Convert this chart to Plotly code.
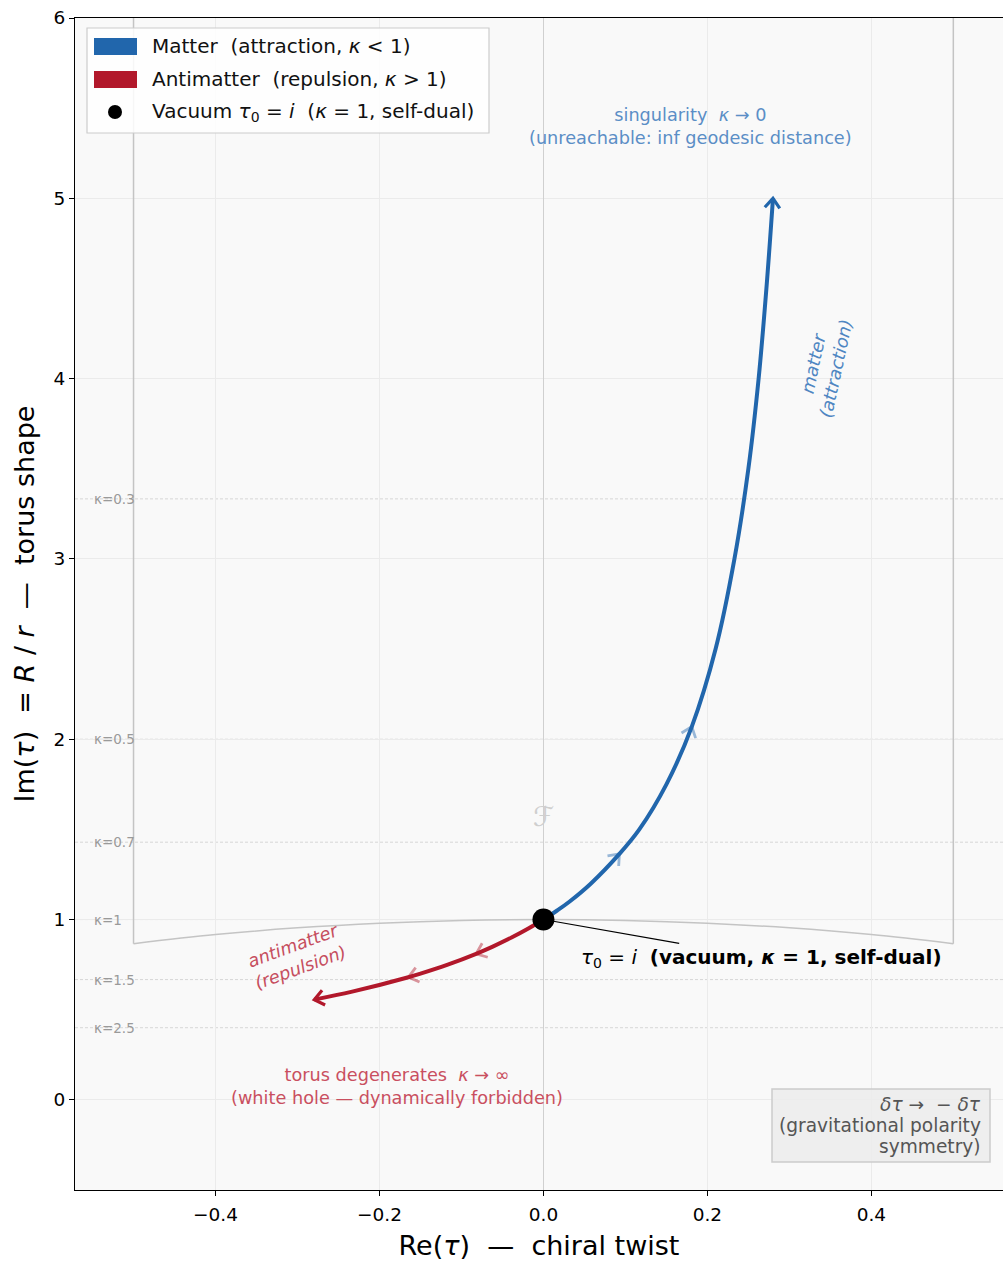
import math
import plotly.graph_objects as go

# ---------------- data ----------------
matter_re = [0.000, 0.0167, 0.032, 0.058, 0.0927, 0.117, 0.150, 0.181, 0.210, 0.233, 0.250, 0.2625, 0.272, 0.280]
matter_im = [1.00, 1.05, 1.10, 1.20, 1.364, 1.50, 1.75, 2.07, 2.50, 3.00, 3.50, 4.00, 4.50, 5.00]
matter_mid_arrows = [4, 7]

anti_re = [0.000, -0.0184, -0.0389, -0.0618, -0.0821, -0.1167, -0.150, -0.1647, -0.2333, -0.2795]
anti_im = [1.00, 0.95, 0.90, 0.85, 0.81, 0.75, 0.70, 0.68, 0.60, 0.556]
anti_mid_arrows = [4, 7]

arc_re = [-0.5, -0.4, -0.3, -0.2, -0.1, 0.0, 0.1, 0.2, 0.3, 0.4, 0.5]
arc_im = [0.866, 0.9165, 0.9539, 0.9798, 0.9950, 1.0, 0.9950, 0.9798, 0.9539, 0.9165, 0.866]
wall_re = [-0.5, 0.5]
wall_im = [0.866, 6.0]

kappa_labels = ["κ=0.3", "κ=0.5", "κ=0.7", "κ=1", "κ=1.5", "κ=2.5"]
kappa_im = [3.333, 2.0, 1.429, 1.0, 0.667, 0.4]

vacuum_re = [0.0]
vacuum_im = [1.0]

x_ticks = [-0.4, -0.2, 0.0, 0.2, 0.4]
x_ticklabels = ["−0.4", "−0.2", "0.0", "0.2", "0.4"]
y_ticks = [0, 1, 2, 3, 4, 5, 6]
y_ticklabels = ["0", "1", "2", "3", "4", "5", "6"]

symmetry_lines = ["<i>δτ</i> →  − <i>δτ</i>", "(gravitational polarity", "symmetry)"]

# ---------------- layout constants ----------------
W, H = 1003, 1261
ML, MR, MT, MB = 75, 0, 18, 71
PW, PH = W - ML - MR, H - MT - MB
XR = [-0.5714, 0.5606]
YR = [-0.5, 6.0]
SX = PW / (XR[1] - XR[0])
SY = PH / (YR[1] - YR[0])

BLUE = "#2166ac"
RED = "#b2182b"
BLUE_FAINT = "rgba(33,102,172,0.45)"
RED_FAINT = "rgba(178,24,43,0.45)"
FONT = "DejaVu Sans"


def px(xp):
    return (xp - ML) / PW


def py(yp):
    return (H - MB - yp) / PH


def chevrons(xs, ys, idx, a=9.5, b=7.5):
    """Open arrowheads ('->') at the given curve points, oriented along the curve."""
    cx, cy = [], []
    for i in idx:
        i0 = max(i - 1, 0)
        i1 = min(i + 1, len(xs) - 1)
        dxp = (xs[i1] - xs[i0]) * SX
        dyp = (ys[i1] - ys[i0]) * SY
        n = math.hypot(dxp, dyp)
        ux, uy = dxp / n, dyp / n
        nx, ny = -uy, ux
        w1 = (xs[i] + (-a * ux + b * nx) / SX, ys[i] + (-a * uy + b * ny) / SY)
        w2 = (xs[i] + (-a * ux - b * nx) / SX, ys[i] + (-a * uy - b * ny) / SY)
        cx += [w1[0], xs[i], w2[0], None]
        cy += [w1[1], ys[i], w2[1], None]
    return cx, cy


fig = go.Figure()

# fundamental domain
fig.add_trace(go.Scatter(x=arc_re, y=arc_im, mode="lines", line=dict(color="#c4c4c4", width=1.5, shape="spline"),
                         hoverinfo="skip", showlegend=False))
for xv in wall_re:
    fig.add_trace(go.Scatter(x=[xv, xv], y=wall_im, mode="lines", line=dict(color="#c4c4c4", width=1.5),
                             hoverinfo="skip", showlegend=False))

# faint mid-curve arrowheads (below the curves)
mx, my = chevrons(matter_re, matter_im, matter_mid_arrows)
fig.add_trace(go.Scatter(x=mx, y=my, mode="lines", line=dict(color=BLUE_FAINT, width=2.8),
                         hoverinfo="skip", showlegend=False))
ax_, ay_ = chevrons(anti_re, anti_im, anti_mid_arrows)
fig.add_trace(go.Scatter(x=ax_, y=ay_, mode="lines", line=dict(color=RED_FAINT, width=2.8),
                         hoverinfo="skip", showlegend=False))

# curves
fig.add_trace(go.Scatter(x=matter_re, y=matter_im, mode="lines", line=dict(color=BLUE, width=4, shape="spline"),
                         name="Matter", showlegend=False, hoverinfo="skip"))
fig.add_trace(go.Scatter(x=anti_re, y=anti_im, mode="lines", line=dict(color=RED, width=4, shape="spline"),
                         name="Antimatter", showlegend=False, hoverinfo="skip"))

# end arrowheads
ex, ey = chevrons(matter_re, matter_im, [len(matter_re) - 1])
fig.add_trace(go.Scatter(x=ex, y=ey, mode="lines", line=dict(color=BLUE, width=3.2),
                         hoverinfo="skip", showlegend=False))
ex, ey = chevrons(anti_re, anti_im, [len(anti_re) - 1])
fig.add_trace(go.Scatter(x=ex, y=ey, mode="lines", line=dict(color=RED, width=3.2),
                         hoverinfo="skip", showlegend=False))

# vacuum point
fig.add_trace(go.Scatter(x=vacuum_re, y=vacuum_im, mode="markers", marker=dict(color="black", size=22),
                         name="Vacuum", showlegend=False, hoverinfo="skip"))

annotations = []
shapes = []

# kappa level lines and labels
for lab, yv in zip(kappa_labels, kappa_im):
    shapes.append(dict(type="line", xref="paper", yref="y", x0=0, x1=1, y0=yv, y1=yv, layer="between",
                       line=dict(color="#d2d2d2", width=0.9, dash="3px,2px")))
    annotations.append(dict(x=px(92), y=yv, xref="paper", yref="y", text=lab, showarrow=False,
                            xanchor="left", yanchor="middle", font=dict(family=FONT, size=13.5, color="#9a9a9a")))

# text annotations
annotations.append(dict(x=0.179, y=5.397, xref="x", yref="y", showarrow=False,
                        text="singularity  <i>κ</i> → 0<br>(unreachable: inf geodesic distance)",
                        font=dict(family=FONT, size=17.7, color="#5b8ec6"), align="center"))
annotations.append(dict(x=0.344, y=4.07, xref="x", yref="y", showarrow=False, textangle=-78,
                        text="<i>matter<br>(attraction)</i>",
                        font=dict(family=FONT, size=17.7, color="#4f86c2"), align="center"))
annotations.append(dict(x=-0.300, y=0.793, xref="x", yref="y", showarrow=False, textangle=-20,
                        text="<i>antimatter<br>(repulsion)</i>",
                        font=dict(family=FONT, size=17.7, color="#c64e5e"), align="center"))
annotations.append(dict(x=-0.179, y=0.072, xref="x", yref="y", showarrow=False,
                        text="torus degenerates  <i>κ</i> → ∞<br>(white hole — dynamically forbidden)",
                        font=dict(family=FONT, size=17.7, color="#c94f60"), align="center"))
annotations.append(dict(x=0.0, y=1.57, xref="x", yref="y", showarrow=False, text="<i>ℱ</i>",
                        font=dict(family=FONT, size=27, color="#cfcfcf")))
annotations.append(dict(x=0.0, y=1.0, xref="x", yref="y", ax=0.2665, ay=0.7876, axref="x", ayref="y",
                        showarrow=True, arrowhead=0, arrowwidth=1.1, arrowcolor="black",
                        text="<i>τ</i><sub>0</sub> = <i>i</i>  <b>(vacuum, <i>κ</i> = 1, self-dual)</b>",
                        font=dict(family=FONT, size=20, color="black")))

# symmetry box (bottom right)
shapes.append(dict(type="rect", xref="paper", yref="paper", x0=px(772), x1=px(990), y0=py(1162), y1=py(1089),
                   fillcolor="rgba(236,236,236,0.9)", line=dict(color="#cccccc", width=1.5), layer="above"))
for t, yc in zip(symmetry_lines, [1104, 1125, 1146]):
    annotations.append(dict(x=px(983), y=py(yc), xref="paper", yref="paper", showarrow=False,
                            xanchor="right", yanchor="middle", text=t,
                            font=dict(family=FONT, size=18.6, color="#555555")))

# manual legend
shapes.append(dict(type="rect", xref="paper", yref="paper", x0=px(87), x1=px(489), y0=py(133), y1=py(28),
                   fillcolor="rgba(255,255,255,0.85)", line=dict(color="#cccccc", width=1.2), layer="above"))
shapes.append(dict(type="rect", xref="paper", yref="paper", x0=px(94), x1=px(137), y0=py(55), y1=py(38),
                   fillcolor=BLUE, line=dict(width=0), layer="above"))
shapes.append(dict(type="rect", xref="paper", yref="paper", x0=px(94), x1=px(137), y0=py(88), y1=py(71),
                   fillcolor=RED, line=dict(width=0), layer="above"))
shapes.append(dict(type="circle", xref="paper", yref="paper", x0=px(108), x1=px(122), y0=py(119), y1=py(105),
                   fillcolor="black", line=dict(width=0), layer="above"))
legend_texts = ["Matter  (attraction, <i>κ</i> < 1)",
                "Antimatter  (repulsion, <i>κ</i> > 1)",
                "Vacuum <i>τ</i><sub>0</sub> = <i>i</i>  (<i>κ</i> = 1, self-dual)"]
for t, yc in zip(legend_texts, [46, 79, 112]):
    annotations.append(dict(x=px(150), y=py(yc), xref="paper", yref="paper", showarrow=False,
                            xanchor="left", yanchor="middle", text=t,
                            font=dict(family=FONT, size=20, color="#111111")))

fig.update_layout(
    width=W, height=H,
    margin=dict(l=ML, r=MR, t=MT, b=MB),
    paper_bgcolor="white", plot_bgcolor="#f9f9f9",
    font=dict(family=FONT, color="black"),
    shapes=shapes, annotations=annotations,
    showlegend=False,
    xaxis=dict(range=XR, tickvals=x_ticks, ticktext=x_ticklabels, ticks="outside", ticklen=5, tickwidth=1,
               tickcolor="black", showline=True, linecolor="black", linewidth=1.2, mirror=True,
               showgrid=True, gridcolor="#ebebeb", gridwidth=1,
               zeroline=True, zerolinecolor="#d0d0d0", zerolinewidth=1,
               tickfont=dict(size=18.5, family=FONT), ticklabelstandoff=3,
               title=dict(text="Re(<i>τ</i>)  —  chiral twist", font=dict(size=27, family=FONT), standoff=13)),
    yaxis=dict(range=YR, tickvals=y_ticks, ticktext=y_ticklabels, ticks="outside", ticklen=5, tickwidth=1,
               tickcolor="black", showline=True, linecolor="black", linewidth=1.2, mirror=False,
               showgrid=True, gridcolor="#ebebeb", gridwidth=1, zeroline=False,
               tickfont=dict(size=18.5, family=FONT),
               title=dict(text="Im(<i>τ</i>)  = <i>R</i> / <i>r</i>  —  torus shape", font=dict(size=27, family=FONT),
                          standoff=10)),
)

fig.write_html("out.html", config={"displayModeBar": False},
               post_script="document.body.style.margin='0';document.documentElement.style.overflow='hidden';")
